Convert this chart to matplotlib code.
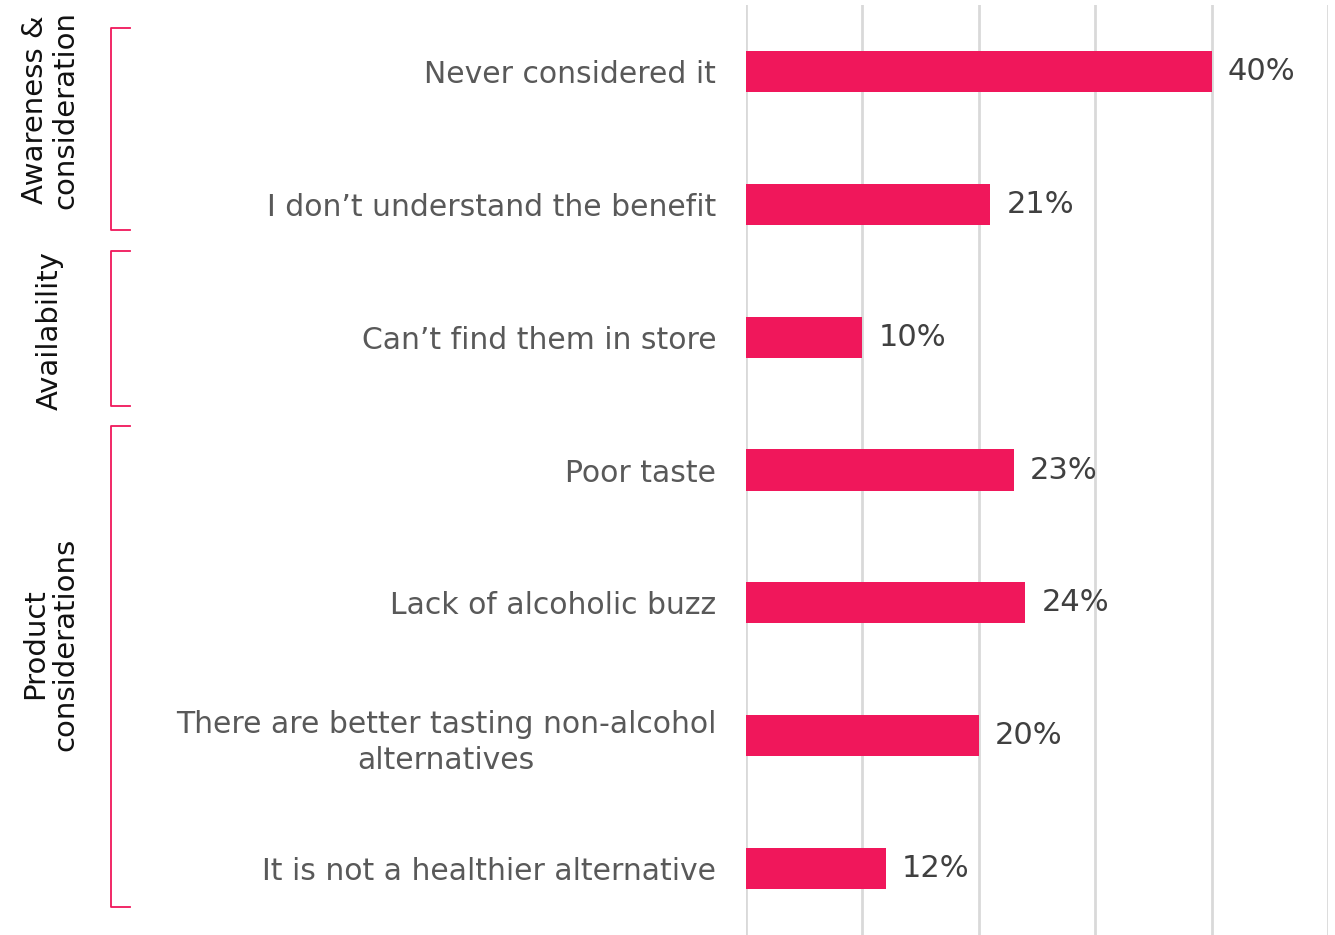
import matplotlib.pyplot as plt
import matplotlib.transforms as mtransforms
from matplotlib.lines import Line2D

# data
categories = [
    "Never considered it",
    "I don\u2019t understand the benefit",
    "Can\u2019t find them in store",
    "Poor taste",
    "Lack of alcoholic buzz",
    "There are better tasting non-alcohol\nalternatives",
    "It is not a healthier alternative",
]
values = [40, 21, 10, 23, 24, 20, 12]
groups = ["Awareness &\nconsideration", "Availability", "Product\nconsiderations"]

pink = "#F0175B"
plt.rcParams['font.family'] = ['DejaVu Sans']

fig = plt.figure(figsize=(13.35, 9.35), dpi=100)
ax = fig.add_axes([746 / 1335, 0, 582 / 1335, 930 / 935])

y = list(range(len(categories)))
ax.barh(y, values, height=0.31, color=pink, zorder=3)
ax.set_xlim(0, 50)
ax.set_ylim(len(categories) - 0.5, -0.5)
ax.set_xticks([0, 10, 20, 30, 40, 50])
ax.xaxis.grid(True, color="#D9D9D9", linewidth=2)
ax.set_xticklabels([])
ax.tick_params(axis="x", length=0)
ax.set_yticks(y)
ax.set_yticklabels(categories, fontsize=21.5, color="#595959", linespacing=1.3)
ax.tick_params(axis="y", length=0, pad=21.5)
for lab in ax.get_yticklabels():
    lab.set_multialignment("center")
for s in ax.spines.values():
    s.set_visible(False)

for yi, v in zip(y, values):
    ax.annotate(f"{v}%", (v, yi), xytext=(11.5, 0), textcoords="offset points",
                va="center", ha="left", fontsize=22, color="#404040")

# group brackets (spans in row units)
bt = mtransforms.blended_transform_factory(fig.transFigure, ax.transData)
xb, xe = 111 / 1335, 130 / 1335
spans = [(-0.33, 1.19), (1.35, 2.52), (2.67, 6.29)]
label_y = [0.29, 1.95, 4.31]
for g, (top, bot), ly in zip(groups, spans, label_y):
    fig.add_artist(Line2D([xe, xb, xb, xe], [top, top, bot, bot], transform=bt,
                          color=pink, linewidth=1.3, clip_on=False))
    fig.text(50 / 1335, ly, g, transform=bt, rotation=90, ha="center", va="center",
             fontsize=21, color="#111111", multialignment="center", linespacing=1.1)

fig.savefig("out.png", dpi=100)
